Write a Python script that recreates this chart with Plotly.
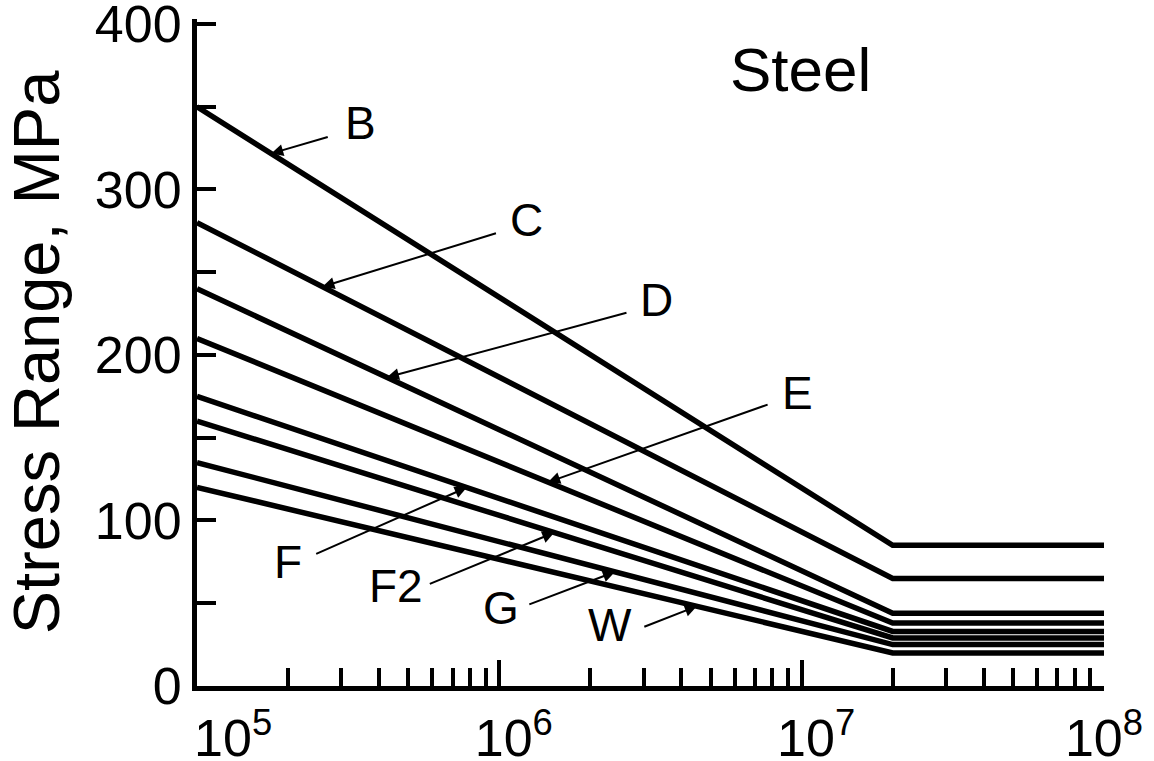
import numpy as np
import plotly.graph_objects as go

# ---- data ----
categories = ["B", "C", "D", "E", "F", "F2", "G", "W"]
cycles = [1e5, 2e7, 1e8]                       # start, knee (constant amplitude limit), end
stress_at_start = [350, 280, 240, 210, 175, 160, 135, 120]   # MPa at 1e5 cycles
stress_at_knee = [85, 65, 44, 38, 33, 29, 25, 20]            # MPa at 2e7 cycles and beyond

# label positions: N where arrow touches the line, and arrow tail / text offsets (px)
label_N = [1.76e5, 2.6e5, 4.25e5, 1.45e6, 7.8e5, 1.52e6, 2.41e6, 4.5e6]
tail_offsets = [(58, -17), (175, -54), (241, -65), (221, -78),
                (-152, 67), (-126, 52), (-87, 33), (-54, 21)]
text_offsets = [(89, -31), (204, -67), (270, -77), (249, -89),
                (-179, 75), (-158, 53), (-114, 36), (-87, 19)]

NB = "\u00a0"
x_tickvals = [1e5, 1e6, 1e7, 1e8]
x_ticktext = [NB * 5 + "10<sup>5</sup>", NB * 2 + "10<sup>6</sup>",
              NB * 2 + "10<sup>7</sup>", "10<sup>8</sup>"]
y_tickvals = [0, 50, 100, 150, 200, 250, 300, 350, 400]
y_ticktext = ["0", "", "100", "", "200", "", "300", "", "400"]

FONT = "Liberation Sans, Arial, sans-serif"

fig = go.Figure()
for cat, s0, sk in zip(categories, stress_at_start, stress_at_knee):
    fig.add_trace(go.Scatter(
        x=cycles, y=[s0, sk, sk], mode="lines", name=cat,
        line=dict(color="black", width=5.5), showlegend=False,
        hoverinfo="skip"))


def stress_on_line(i, n):
    # log-linear interpolation along the sloped segment
    ln0, lnk = np.log10(cycles[0]), np.log10(cycles[1])
    t = (np.log10(n) - ln0) / (lnk - ln0)
    return stress_at_start[i] + t * (stress_at_knee[i] - stress_at_start[i])


annotations = []
for i, cat in enumerate(categories):
    n = label_N[i]
    s = stress_on_line(i, n)
    ax, ay = tail_offsets[i]
    annotations.append(dict(
        x=np.log10(n), y=s, xref="x", yref="y", text="",
        showarrow=True, ax=ax, ay=ay, arrowhead=2, arrowsize=1.2,
        arrowwidth=2, arrowcolor="black"))
    tx, ty = text_offsets[i]
    annotations.append(dict(
        x=np.log10(n), y=s, xref="x", yref="y", text=cat,
        showarrow=False, xshift=tx, yshift=-ty,
        font=dict(family=FONT, size=46, color="black")))

annotations.append(dict(
    x=0.665, y=0.925, xref="paper", yref="paper", text="Steel",
    xanchor="center", yanchor="middle",
    showarrow=False, font=dict(family=FONT, size=62, color="black")))

fig.update_layout(
    width=1154, height=761,
    margin=dict(l=197, r=50, t=19, b=75),
    paper_bgcolor="white", plot_bgcolor="white",
    font=dict(family=FONT, color="black"),
    annotations=annotations,
    xaxis=dict(
        type="log", range=[5, 8], automargin=False,
        tickvals=x_tickvals, ticktext=x_ticktext,
        ticks="inside", ticklen=26, tickwidth=4, tickcolor="black",
        tickfont=dict(family=FONT, size=52, color="black"),
        minor=dict(
            tickvals=[m * 10 ** e for e in (5, 6, 7) for m in range(2, 10)],
            ticks="inside", ticklen=18, tickwidth=4, tickcolor="black",
            showgrid=False),
        showline=True, linewidth=5, linecolor="black",
        showgrid=False, zeroline=False,
        ticklabelstandoff=3, ticklabeloverflow="allow",
    ),
    yaxis=dict(
        range=[0, 403], automargin=False,
        tickvals=y_tickvals, ticktext=y_ticktext,
        ticks="inside", ticklen=19, tickwidth=4, tickcolor="black",
        tickfont=dict(family=FONT, size=52, color="black"),
        showline=True, linewidth=5, linecolor="black",
        showgrid=False, zeroline=False,
        ticklabelstandoff=0, ticklabeloverflow="allow",
        title=dict(text="Stress Range, MPa", standoff=20,
                   font=dict(family=FONT, size=65, color="black")),
    ),
)

fig.write_html("out.html")
